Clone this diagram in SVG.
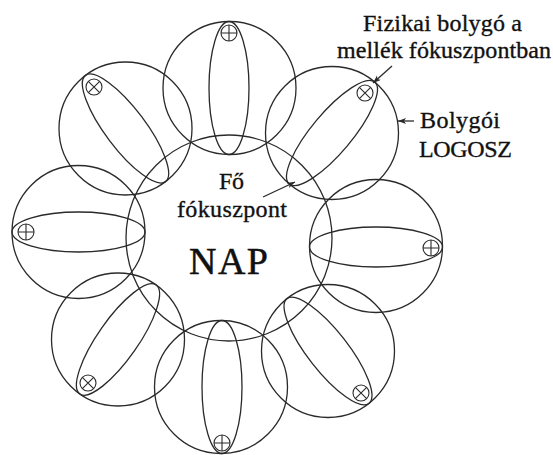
<svg xmlns="http://www.w3.org/2000/svg" width="553" height="455" viewBox="0 0 553 455">
<style>
.ln{fill:none;stroke:#2a2a2a;stroke-width:1.3}
.sym{fill:none;stroke:#2a2a2a;stroke-width:1.1}
text{font-family:'Liberation Serif','Times New Roman',serif;fill:#111;stroke:#111;stroke-width:0.35}
.t{font-size:24px}
.big{font-size:38px;stroke-width:0.5}
</style>
<defs>
<marker id="ah" markerUnits="userSpaceOnUse" markerWidth="10" markerHeight="8" refX="8" refY="3" orient="auto">
<path d="M0,0 L8,3 L0,6 L2,3 Z" fill="#2a2a2a"/>
</marker>
<g id="plus"><circle r="8" class="sym"/><path d="M-8,0H8M0,-8V8" class="sym"/></g>
<g id="cross"><circle r="8" class="sym"/><path d="M-5.66,-5.66L5.66,5.66M-5.66,5.66L5.66,-5.66" class="sym"/></g>
</defs>
<rect width="553" height="455" fill="#fff"/>

<g id="sun">
<circle cx="229" cy="238" r="103" class="ln"/>
<text class="t" x="219" y="189" textLength="25">Fő</text>
<text class="t" x="177" y="217" textLength="110">fókuszpont</text>
<text class="big" x="189" y="274" textLength="79">NAP</text>
</g>

<g id="planet-top">
<circle cx="229.5" cy="88" r="66.5" class="ln"/>
<ellipse cx="229" cy="88" rx="66.5" ry="20" class="ln" transform="rotate(90 229 88)"/>
<use href="#plus" x="229" y="33"/>
</g>
<g id="planet-topright">
<circle cx="332" cy="133" r="66.5" class="ln"/>
<ellipse cx="332" cy="133" rx="66.5" ry="20" class="ln" transform="rotate(-50 332 133)"/>
<use href="#cross" x="365" y="93"/>
</g>
<g id="planet-right">
<circle cx="376" cy="246" r="66.5" class="ln"/>
<ellipse cx="376" cy="247" rx="66.5" ry="20" class="ln"/>
<use href="#plus" x="431" y="248"/>
</g>
<g id="planet-bottomright">
<circle cx="328" cy="351" r="66.5" class="ln"/>
<ellipse cx="328" cy="351" rx="66.5" ry="20" class="ln" transform="rotate(52 328 351)"/>
<use href="#cross" x="361" y="393"/>
</g>
<g id="planet-bottom">
<circle cx="221" cy="387" r="66.5" class="ln"/>
<ellipse cx="222" cy="387" rx="66.5" ry="20" class="ln" transform="rotate(90 222 387)"/>
<use href="#plus" x="222" y="443"/>
</g>
<g id="planet-bottomleft">
<circle cx="118" cy="339.5" r="66.5" class="ln"/>
<ellipse cx="118" cy="339.5" rx="66.5" ry="20" class="ln" transform="rotate(-55 118 339.5)"/>
<use href="#cross" x="88" y="383"/>
</g>
<g id="planet-left">
<circle cx="78.5" cy="232" r="66.5" class="ln"/>
<ellipse cx="78.5" cy="232" rx="66.5" ry="20" class="ln"/>
<use href="#plus" x="26" y="232"/>
</g>
<g id="planet-topleft">
<circle cx="125.5" cy="128.5" r="66.5" class="ln"/>
<ellipse cx="125.5" cy="128.5" rx="66.5" ry="20" class="ln" transform="rotate(53 125.5 128.5)"/>
<use href="#cross" x="94" y="87"/>
</g>

<g id="label-physical">
<text class="t" x="363" y="31" textLength="159">Fizikai bolygó a</text>
<text class="t" x="337" y="58" textLength="214">mellék fókuszpontban</text>
</g>
<g id="label-logos">
<text class="t" x="420" y="128" textLength="80">Bolygói</text>
<text class="t" x="419" y="157" textLength="93">LOGOSZ</text>
</g>

<g id="connectors">
<line x1="392" y1="66" x2="373" y2="83" class="ln" marker-end="url(#ah)"/>
<line x1="414" y1="121" x2="398" y2="121" class="ln" marker-end="url(#ah)"/>
<line x1="263" y1="197" x2="295" y2="182" class="ln" marker-end="url(#ah)"/>
</g>
</svg>
